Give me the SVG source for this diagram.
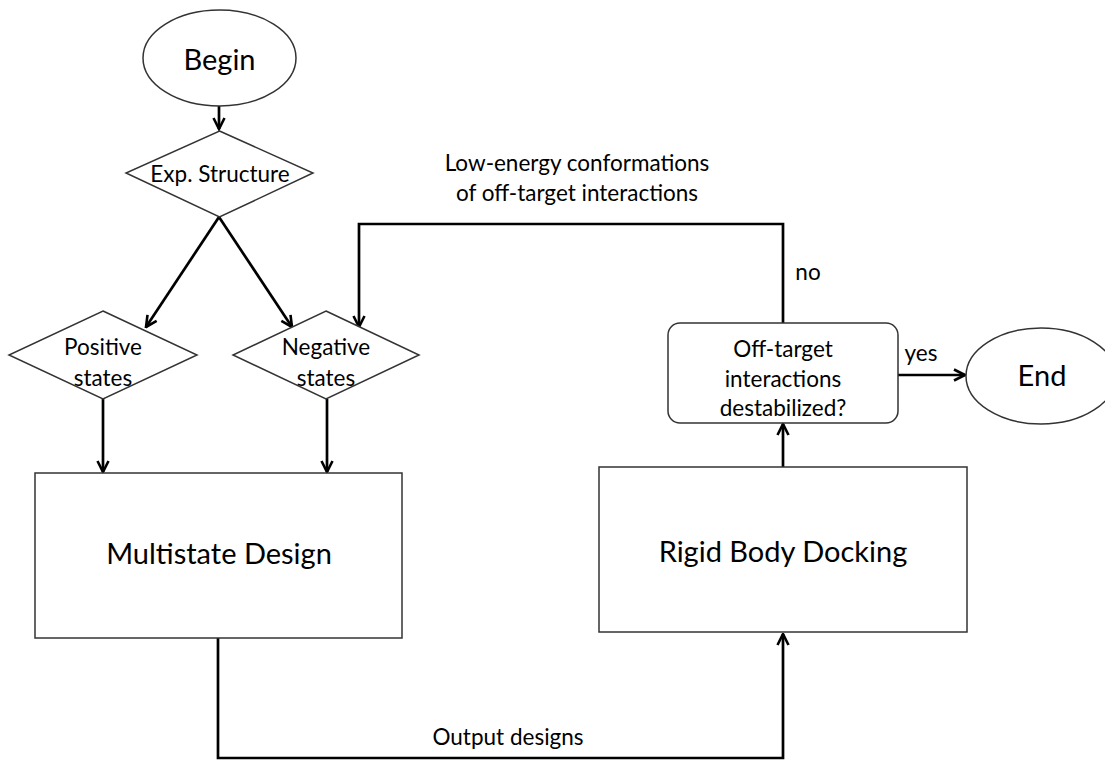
<svg xmlns="http://www.w3.org/2000/svg" width="1105" height="760" viewBox="0 0 1105 760">
<defs>
<marker id="arr" viewBox="0 0 14 14" refX="12.5" refY="7" markerWidth="14" markerHeight="14" markerUnits="userSpaceOnUse" orient="auto">
<path d="M1.5,1.5 L12.5,7 L1.5,12.5" fill="none" stroke="#000" stroke-width="2.6"/>
</marker>
<style>
.shape{fill:#fff;stroke:#333;stroke-width:1.5}
.conn{fill:none;stroke:#000;stroke-width:2.7}
text{font-family:Lato,"Open Sans","Liberation Sans",sans-serif;fill:#000;text-anchor:middle;dominant-baseline:central}
.big{font-size:29px}
.mid{font-size:22.5px}
.lbl{font-size:22.5px}
</style>
</defs>
<rect width="1105" height="760" fill="#fff"/>
<g id="connectors">
<path class="conn" d="M219,106 L219,129" marker-end="url(#arr)"/>
<path class="conn" d="M219,217 L146,327" marker-end="url(#arr)"/>
<path class="conn" d="M219,217 L292,327" marker-end="url(#arr)"/>
<path class="conn" d="M103,399 L103,472" marker-end="url(#arr)"/>
<path class="conn" d="M327,399 L327,472" marker-end="url(#arr)"/>
<path class="conn" d="M218,638 L218,758 L783,758 L783,634" marker-end="url(#arr)"/>
<path class="conn" d="M783,467 L783,424" marker-end="url(#arr)"/>
<path class="conn" d="M783,323 L783,224 L359,224 L359,327" marker-end="url(#arr)"/>
<path class="conn" d="M898,375 L965,375" marker-end="url(#arr)"/>
<text class="lbl" x="577" y="162">Low-energy conformations</text>
<text class="lbl" x="577" y="192">of off-target interactions</text>
<text class="lbl" x="808" y="271">no</text>
<text class="lbl" x="921" y="352">yes</text>
<text class="lbl" x="508" y="736">Output designs</text>
</g>
<g id="begin">
<ellipse class="shape" cx="219.5" cy="58" rx="76.5" ry="48"/>
<text class="big" x="219.5" y="58">Begin</text>
</g>
<g id="exp-structure">
<polygon class="shape" points="219.5,131 313,173 219.5,217 126,173"/>
<text class="mid" x="220" y="173">Exp. Structure</text>
</g>
<g id="positive-states">
<polygon class="shape" points="103,311 197,355 103,399 9,355"/>
<text class="mid" x="103" y="346">Positive</text>
<text class="mid" x="103" y="377">states</text>
</g>
<g id="negative-states">
<polygon class="shape" points="326,311 419,355 326,399 233,355"/>
<text class="mid" x="326" y="346">Negative</text>
<text class="mid" x="326" y="377">states</text>
</g>
<g id="multistate-design">
<rect class="shape" x="35" y="473" width="367" height="165"/>
<text class="big" x="219" y="552">Multistate Design</text>
</g>
<g id="rigid-body-docking">
<rect class="shape" x="599" y="467" width="368" height="165"/>
<text class="big" x="783" y="550">Rigid Body Docking</text>
</g>
<g id="off-target">
<rect class="shape" x="668" y="323" width="230" height="100" rx="12" ry="12"/>
<text class="mid" x="783" y="348">Off-target</text>
<text class="mid" x="783" y="378">interactions</text>
<text class="mid" x="783" y="407">destabilized?</text>
</g>
<g id="end">
<ellipse class="shape" cx="1041" cy="376" rx="75" ry="48"/>
<text class="big" x="1042" y="374">End</text>
</g>
</svg>
